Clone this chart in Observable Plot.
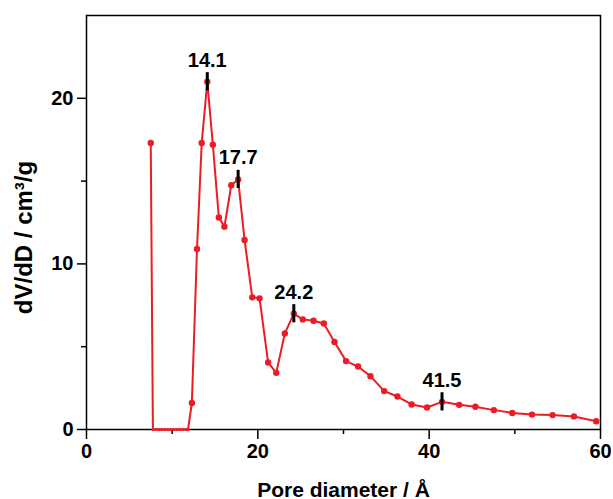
<!DOCTYPE html>
<html>
<head>
<meta charset="utf-8">
<script src="https://cdn.jsdelivr.net/npm/d3@7"></script>
<script src="https://cdn.jsdelivr.net/npm/@observablehq/plot@0.6"></script>
<style>
  html, body { margin: 0; padding: 0; background: #fff; }
  #chart svg { display: block; }
</style>
</head>
<body>
<div id="chart"></div>
<script>
// Pore size distribution (dV/dD vs pore diameter)
const diameter = [7.5, 7.75, 8.1, 8.45, 8.8, 9.15, 9.5, 9.85, 10.2, 10.55, 10.9, 11.25, 11.6, 11.85,
  12.3, 12.9, 13.45, 14.1, 14.75, 15.45, 16.1, 16.9, 17.7, 18.45, 19.35, 20.2, 21.2, 22.15, 23.15,
  24.2, 25.25, 26.5, 27.7, 28.95, 30.3, 31.7, 33.15, 34.75, 36.3, 37.95, 39.75, 41.5, 43.5, 45.4,
  47.55, 49.7, 52.0, 54.4, 56.9, 59.5];
const dvdd = [17.3, 0, 0, 0, 0, 0, 0, 0, 0, 0, 0, 0, 0, 0,
  1.6, 10.9, 17.3, 21.0, 17.2, 12.8, 12.25, 14.75, 15.1, 11.45, 7.98, 7.92, 4.05, 3.42, 5.8,
  6.99, 6.65, 6.57, 6.4, 5.28, 4.13, 3.8, 3.22, 2.32, 1.99, 1.51, 1.33, 1.67, 1.49, 1.37,
  1.17, 1.0, 0.9, 0.87, 0.79, 0.5];

// Annotated peaks
const peakLabels = ["14.1", "17.7", "24.2", "41.5"];

const xMajorTicks = [0, 20, 40, 60];
const xMinorTicks = [10, 30, 50];
const yMajorTicks = [0, 10, 20];
const yMinorTicks = [5, 15];

const rows = diameter.map((x, i) => ({x, y: dvdd[i]}));
const peaks = peakLabels.map(label => {
  const x = +label;
  const row = rows.find(r => r.x === x);
  return {x, y: row.y, label};
});

const font = "'Liberation Sans', Arial, sans-serif";
const red = "#ec1c24";

const chart = Plot.plot({
  width: 613,
  height: 499,
  marginLeft: 86,
  marginRight: 13,
  marginTop: 15,
  marginBottom: 70,
  style: {fontFamily: font, fontWeight: "bold", fontSize: "20px", background: "#fff", color: "#000"},
  x: {domain: [0, 60]},
  y: {domain: [0, 25]},
  marks: [
    Plot.axisX({ticks: xMajorTicks, tickSize: 10, tickPadding: 4, strokeWidth: 1.5, label: null, fontSize: 20}),
    Plot.axisX({ticks: xMinorTicks, tickSize: 5, tickFormat: () => "", strokeWidth: 1.5, label: null}),
    Plot.axisY({ticks: yMajorTicks, tickSize: 9, tickPadding: 4, strokeWidth: 1.5, label: null, fontSize: 20}),
    Plot.axisY({ticks: yMinorTicks, tickSize: 5, tickFormat: () => "", strokeWidth: 1.5, label: null}),
    Plot.frame({stroke: "#000", strokeWidth: 1.5}),
    Plot.line(rows, {x: "x", y: "y", stroke: red, strokeWidth: 2}),
    Plot.dot(rows.filter(d => d.y !== 0), {x: "x", y: "y", r: 3.2, fill: red, stroke: "none"}),
    Plot.dot(rows.filter(d => d.y === 0), {x: "x", y: "y", r: 1.5, fill: red, stroke: "none"}),
    Plot.ruleX(peaks, {x: "x", y1: d => d.y - 0.55, y2: d => d.y + 0.55, stroke: "#000", strokeWidth: 3}),
    Plot.text(peaks, {x: "x", y: "y", text: "label", dy: -15, lineAnchor: "bottom", fontSize: 20, fontWeight: "bold", fill: "#000"}),
    Plot.text(["Pore diameter / Å"], {frameAnchor: "bottom", dy: 67, lineAnchor: "bottom", fontSize: 21, fontWeight: "bold", fill: "#000"}),
    Plot.text(["dV/dD / cm³/g"], {frameAnchor: "left", textAnchor: "middle", dx: -62, dy: 15, rotate: -90, fontSize: 24, fontWeight: "bold", fill: "#000"})
  ]
});

document.getElementById("chart").appendChild(chart);
</script>
</body>
</html>
